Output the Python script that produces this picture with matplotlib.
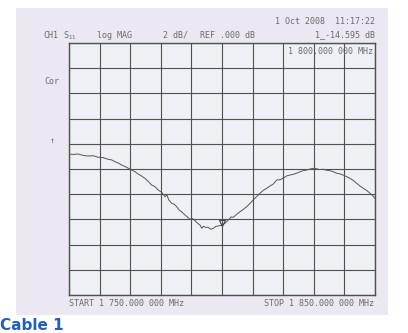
import numpy as np
import matplotlib.pyplot as plt
from matplotlib.patches import Rectangle
import matplotlib.transforms as mtransforms

# trace (MHz, dB)
freq = [1750.0, 1751.5, 1753.0, 1754.6, 1756.3, 1758.0, 1759.6, 1761.2, 1762.8, 1764.0,
        1765.0, 1766.1, 1767.2, 1768.3, 1769.4, 1770.5, 1771.5, 1772.6, 1773.7, 1774.8,
        1775.9, 1777.0, 1778.1, 1779.2, 1780.3, 1781.4, 1782.0, 1782.6, 1783.6, 1784.4,
        1785.2, 1786.0, 1786.8, 1787.9, 1788.7, 1789.5, 1790.3, 1791.2, 1792.0, 1792.8,
        1793.4, 1793.9, 1794.7, 1795.5, 1796.3, 1797.2, 1798.0, 1798.8, 1800.0, 1801.0,
        1802.1, 1803.0, 1803.7, 1804.8, 1805.9, 1807.0, 1808.1, 1809.1, 1810.2, 1811.3,
        1812.4, 1813.5, 1814.6, 1815.7, 1816.8, 1817.9, 1819.0, 1820.0, 1821.1, 1822.2,
        1823.3, 1824.4, 1825.5, 1826.6, 1827.7, 1828.8, 1829.9, 1830.9, 1832.0, 1833.1,
        1834.2, 1835.3, 1836.4, 1837.5, 1838.5, 1839.6, 1840.7, 1841.8, 1842.9, 1844.0,
        1845.1, 1846.2, 1847.3, 1848.4, 1849.2, 1850.0]
s11_db = [-8.81, -8.85, -8.81, -8.92, -8.97, -8.95, -9.07, -9.10, -9.23, -9.28,
          -9.42, -9.52, -9.68, -9.80, -9.94, -10.08, -10.20, -10.40, -10.55, -10.74,
          -10.98, -11.27, -11.40, -11.67, -11.85, -12.20, -12.05, -12.45, -12.72, -12.80,
          -12.99, -13.25, -13.39, -13.65, -13.80, -13.99, -13.92, -14.10, -14.30, -14.44,
          -14.71, -14.55, -14.63, -14.63, -14.78, -14.71, -14.55, -14.52, -14.45, -14.30,
          -14.05, -13.80, -13.83, -13.60, -13.39, -13.20, -12.99, -12.75, -12.46, -12.20,
          -11.93, -11.70, -11.53, -11.35, -11.19, -10.87, -10.85, -10.74, -10.55, -10.48,
          -10.42, -10.34, -10.22, -10.13, -10.08, -10.00, -9.95, -9.98, -10.05, -10.02,
          -10.10, -10.13, -10.22, -10.34, -10.38, -10.48, -10.60, -10.74, -10.90, -11.13,
          -11.35, -11.53, -11.70, -11.93, -12.10, -12.33]

mk_freq = 1800.0
mk_db = -14.595

start_mhz, stop_mhz = 1750, 1850
ref_db, scale_db = 0.0, 2.0

ink = '#505050'
txt = '#6a6a6a'
mono = 'DejaVu Sans Mono'

fig = plt.figure(figsize=(4.08, 3.33), dpi=100)
fig.patch.set_facecolor('white')

# scanned paper background
fig.patches.append(Rectangle((0.039, 0.054), 0.913, 0.922, transform=fig.transFigure,
                             facecolor='#ebe8f1', edgecolor='none', zorder=-10))

ax = fig.add_axes([0.169, 0.114, 0.750, 0.757])
ax.set_facecolor('#eef0f5')
ax.plot(freq, s11_db, color='#555555', linewidth=0.7)

# marker triangle sitting on the trace
off = mtransforms.ScaledTranslation(0, 4 / 100, fig.dpi_scale_trans)
ax.plot([mk_freq], [mk_db], marker='v', markersize=5, markerfacecolor='none',
        markeredgecolor='#444444', markeredgewidth=0.8, transform=ax.transData + off)

ax.set_xlim(start_mhz, stop_mhz)
ax.set_ylim(ref_db - 10 * scale_db, ref_db)
ax.set_xticks(np.linspace(start_mhz, stop_mhz, 11))
ax.set_yticks(np.linspace(ref_db - 10 * scale_db, ref_db, 11))
ax.grid(True, color=ink, linewidth=0.8)
ax.tick_params(length=0, labelbottom=False, labelleft=False)
for sp in ax.spines.values():
    sp.set_color(ink)
    sp.set_linewidth(1.0)

fs = 6
W, H = 408, 333
def ftext(x, y, s, **kw):
    fig.text(x / W, 1 - y / H, s, family=mono, fontsize=fs, color=txt, va='center', **kw)

ftext(375, 22, '1 Oct 2008  11:17:22', ha='right')
ftext(43, 35, 'CH1')
ftext(63, 36, r'S$_{11}$')
ftext(97, 35, 'log MAG')
ftext(163, 35, '2 dB/')
ftext(200, 35, 'REF .000 dB')
ftext(375, 35, '1_-14.595 dB', ha='right')
ftext(373, 51, '1 800.000 000 MHz', ha='right')
ftext(44, 82, 'Cor')
ftext(50, 140, '\u2191')
ftext(69, 304, 'START 1 750.000 000 MHz')
ftext(374, 304, 'STOP 1 850.000 000 MHz', ha='right')

fig.text(0.0, 0.0, 'Cable 1', fontsize=11, fontweight='bold',
         color='#1f5fc4', va='bottom', ha='left')

plt.savefig('out.png', dpi=100)
